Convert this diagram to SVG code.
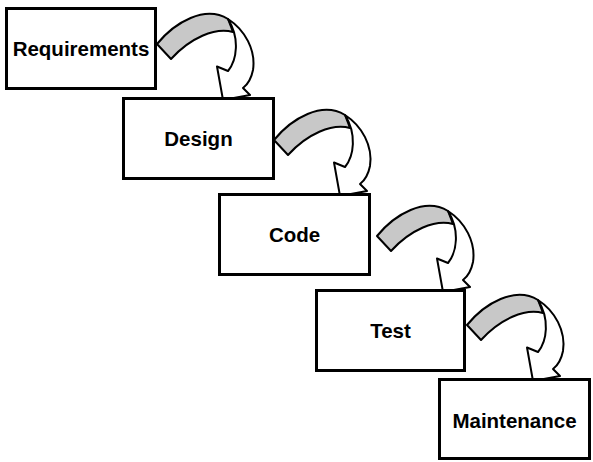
<svg xmlns="http://www.w3.org/2000/svg" xmlns:xlink="http://www.w3.org/1999/xlink" width="593" height="462" viewBox="0 0 593 462">
<style>
.box{fill:#fff;stroke:#000;stroke-width:3}
.lbl{font-family:"Liberation Sans",Arial,sans-serif;font-weight:bold;font-size:20.5px;fill:#000;text-anchor:middle}
.back{fill:#c8c8c8;stroke:#000;stroke-width:2;stroke-linejoin:round}
.front{fill:#fff;stroke:#000;stroke-width:2;stroke-linejoin:round}
</style>
<defs>
<g id="curvedArrow">
<path class="back" d="M157,44 C175,22 205,5 228,19 L233,32 C215,27 190,38 171,59 Z"/>
<path class="front" d="M228,19 C245,30 256,50 253,70 C251,80 247,85 243,88 L250,95 L223,100 L217,66.5 L228,71 C237,60 240,38 228,19 Z"/>
</g>
</defs>
<g id="connectors">
<use xlink:href="#curvedArrow" href="#curvedArrow"/>
<use xlink:href="#curvedArrow" href="#curvedArrow" transform="translate(117,96)"/>
<use xlink:href="#curvedArrow" href="#curvedArrow" transform="translate(220,192)"/>
<use xlink:href="#curvedArrow" href="#curvedArrow" transform="translate(310,281)"/>
</g>
<g id="requirements">
<rect class="box" x="6.5" y="8.5" width="149" height="80"/>
<text class="lbl" x="81" y="56">Requirements</text>
</g>
<g id="design">
<rect class="box" x="123.5" y="98.5" width="150" height="80"/>
<text class="lbl" x="198.5" y="146">Design</text>
</g>
<g id="code">
<rect class="box" x="219.5" y="194.5" width="150" height="80"/>
<text class="lbl" x="294.5" y="242">Code</text>
</g>
<g id="test">
<rect class="box" x="316.5" y="290.5" width="148" height="80"/>
<text class="lbl" x="390.5" y="338">Test</text>
</g>
<g id="maintenance">
<rect class="box" x="439.5" y="379.5" width="150" height="79"/>
<text class="lbl" x="514.5" y="428">Maintenance</text>
</g>
</svg>
